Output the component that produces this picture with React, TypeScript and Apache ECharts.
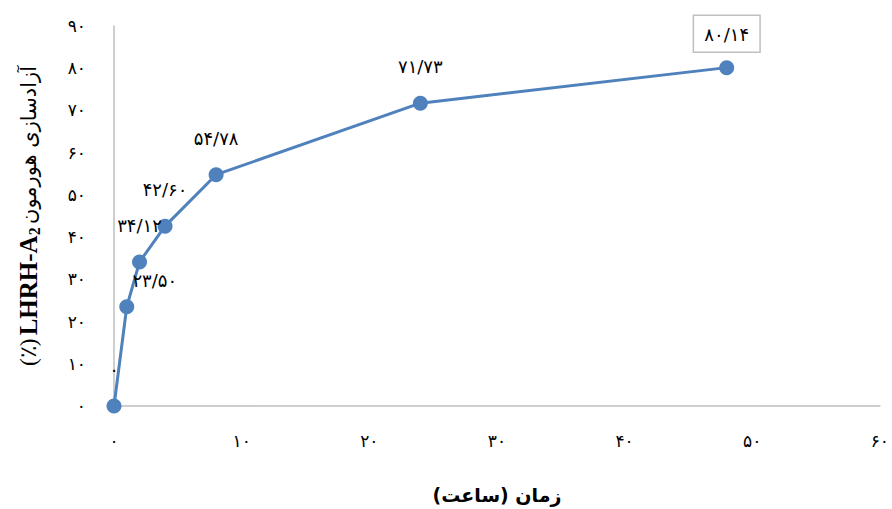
import React, { useEffect, useRef } from "react";
import * as echarts from "echarts";

// Sampling times (hours) and cumulative hormone release (%)
const hours = [0, 1, 2, 4, 8, 24, 48];
const release = [0, 23.5, 34.12, 42.6, 54.78, 71.73, 80.14];

// Axis ranges
const xMax = 60;
const xStep = 10;
const yMax = 90;
const yStep = 10;

const FA_DIGITS = "۰۱۲۳۴۵۶۷۸۹";
const toFa = (s: string) => s.replace(/[0-9]/g, (d) => FA_DIGITS[Number(d)]).replace(/\./g, "/");
const fmtValue = (v: number) => (v === 0 ? toFa("0") : toFa(v.toFixed(2)));

const BLUE = "#4F81BD";
const AXIS_GRAY = "#BFBFBF";

export default function App() {
  const ref = useRef<HTMLDivElement>(null);

  useEffect(() => {
    if (!ref.current) return;
    const chart = echarts.init(ref.current, undefined, { renderer: "svg" });

    const data = hours.map((h, i) => {
      const item: any = { value: [h, release[i]] };
      if (i === 1) {
        item.label = { offset: [28, 10] };
      }
      if (i === hours.length - 1) {
        item.label = {
          borderColor: "#BFBFBF",
          borderWidth: 1.5,
          padding: [10, 11, 9, 11],
          distance: 8,
        };
      }
      return item;
    });

    chart.setOption({
      animation: false,
      backgroundColor: "#ffffff",
      grid: { left: 114, right: 10, top: 26, bottom: 100, containLabel: false },
      xAxis: {
        type: "value",
        min: 0,
        max: xMax,
        interval: xStep,
        name: "\u200Fزمان (ساعت)\u200F",
        nameLocation: "middle",
        nameGap: 79,
        nameTextStyle: {
          fontFamily: "DejaVu Sans",
          fontWeight: "bold",
          fontSize: 19,
          color: "#000",
        },
        axisLine: { show: true, onZero: false, lineStyle: { color: AXIS_GRAY, width: 1.5 } },
        axisTick: { show: false },
        splitLine: { show: false },
        axisLabel: {
          margin: 26,
          fontSize: 17,
          color: "#000",
          fontFamily: "DejaVu Sans",
          formatter: (v: number) => toFa(String(v)),
        },
      },
      yAxis: {
        type: "value",
        min: 0,
        max: yMax,
        interval: yStep,
        name: "{p|(٪)} {b|LHRH-A}{s|2} {f|آزادسازی هورمون}",
        nameLocation: "middle",
        nameRotate: 90,
        nameGap: 72,
        nameTextStyle: {
          color: "#000",
          rich: {
            p: { fontFamily: "Liberation Serif", fontSize: 23, color: "#000" },
            b: { fontFamily: "Liberation Serif", fontWeight: "bold", fontSize: 25, color: "#000" },
            s: {
              fontFamily: "Liberation Serif",
              fontWeight: "bold",
              fontSize: 16,
              color: "#000",
              verticalAlign: "bottom",
              padding: [11, 0, 0, 0],
            },
            f: { fontFamily: "DejaVu Sans", fontSize: 21, color: "#000" },
          },
        },
        axisLine: { show: true, lineStyle: { color: AXIS_GRAY, width: 1.5 } },
        axisTick: { show: false },
        splitLine: { show: false },
        axisLabel: {
          margin: 28,
          fontSize: 17,
          color: "#000",
          fontFamily: "DejaVu Sans",
          formatter: (v: number) => toFa(String(v)),
        },
      },
      series: [
        {
          type: "line",
          data,
          symbol: "circle",
          symbolSize: 15,
          lineStyle: { color: BLUE, width: 3 },
          itemStyle: { color: BLUE },
          label: {
            show: true,
            position: "top",
            distance: 20,
            fontSize: 18,
            fontFamily: "DejaVu Sans",
            color: "#000",
            formatter: (p: any) => fmtValue(p.value[1]),
          },
        },
      ],
    });

    return () => chart.dispose();
  }, []);

  return (
    <div
      ref={ref}
      style={{ position: "fixed", left: 0, top: 0, width: 892, height: 509 }}
    />
  );
}
